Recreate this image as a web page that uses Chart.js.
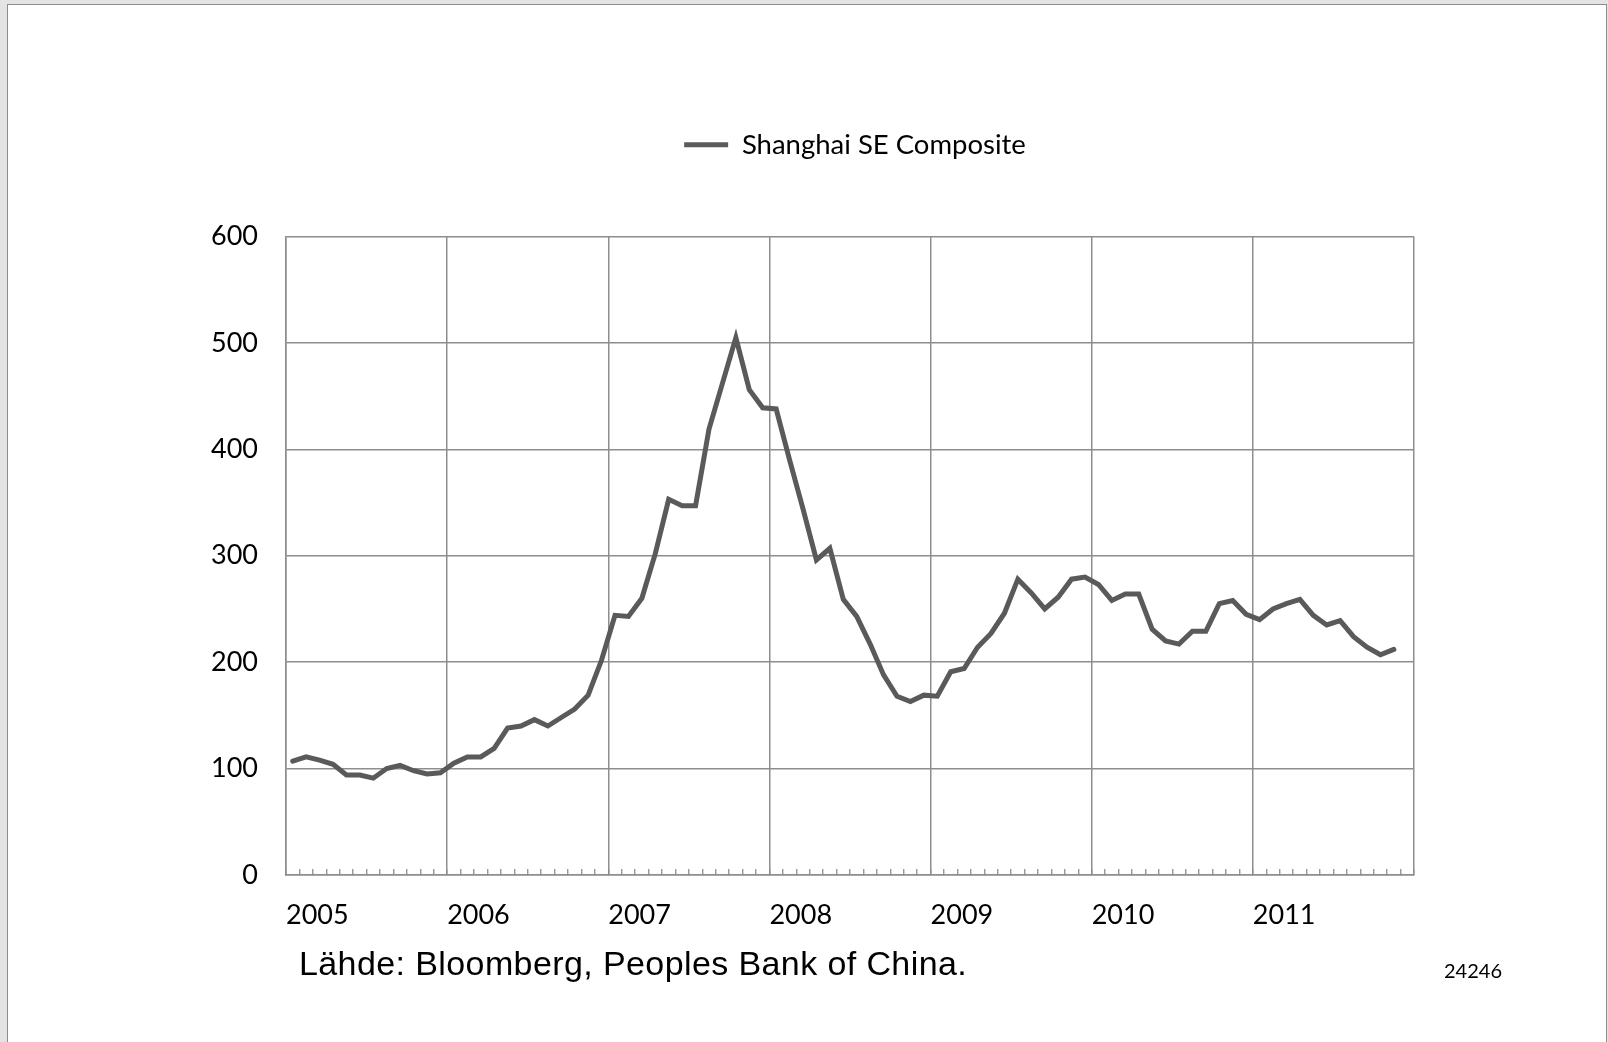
<!DOCTYPE html>
<html lang="fi">
<head>
<meta charset="utf-8">
<title>Shanghai SE Composite</title>
<script src="https://cdn.jsdelivr.net/npm/chart.js@4.4.1/dist/chart.umd.min.js"></script>
<style>
  html, body { margin: 0; padding: 0; }
  body {
    width: 1608px; height: 1042px; overflow: hidden; position: relative;
    background: #e4e4e4; font-family: Lato, sans-serif;
  }
  #sheet {
    position: absolute; left: 7px; top: 4px; width: 1598px; height: 1100px;
    background: #fff; border: 1px solid #8c8c8c; border-bottom: none;
  }
  #wrap { position: absolute; left: 0; top: 0; width: 1608px; height: 1042px; }
  #source {
    position: absolute; left: 299px; top: 946px;
    font: 34px "Liberation Sans", Arial, sans-serif; line-height: 34px;
    letter-spacing: 0.4px; color: #000; white-space: nowrap;
  }
  #code {
    position: absolute; left: 1444px; top: 960px;
    font: 20px Lato, sans-serif; line-height: 20px; color: #000;
  }
</style>
</head>
<body>
<div id="sheet"></div>
<div id="wrap"><canvas id="chart" width="1608" height="1042"></canvas></div>
<div id="source">Lähde: Bloomberg, Peoples Bank of China.</div>
<div id="code">24246</div>

<script>
// Monthly index level, Jan 2005 – Nov 2011
const seriesName = 'Shanghai SE Composite';
const years = ['2005', '2006', '2007', '2008', '2009', '2010', '2011'];
const monthsPerYear = 12;
const yTickValues = [0, 100, 200, 300, 400, 500, 600];
const indexLevel = [
  // 2005
  107, 111, 108, 104, 94, 94, 91, 100, 103, 98, 95, 96,
  // 2006
  105, 111, 111, 119, 138, 140, 146, 140, 148, 156, 169, 202,
  // 2007
  244, 243, 260, 302, 353, 347, 347, 419, 462, 505, 456, 439,
  // 2008
  438, 390, 344, 296, 307, 259, 243, 217, 188, 168, 163, 169,
  // 2009
  168, 191, 194, 214, 227, 246, 278, 265, 250, 261, 278, 280,
  // 2010
  273, 258, 264, 264, 231, 220, 217, 229, 229, 255, 258, 245,
  // 2011
  240, 250, 255, 259, 244, 235, 239, 224, 214, 207, 212
];

const gridColor = '#8e8e8e';
const lineColor = '#5a5a5a';

// Places the legend row above the plot, centred on a given x
const legendPlacement = {
  id: 'legendPlacement',
  beforeDraw(chart, args, opts) {
    const lg = chart.legend;
    if (!lg) return;
    const dx = opts.centerX - (lg.left + lg.right) / 2;
    const dy = opts.top - lg.top;
    lg.left += dx; lg.right += dx;
    lg.top += dy; lg.bottom += dy;
  }
};

function build() {
  Chart.defaults.font.family = 'Lato, sans-serif';
  Chart.defaults.color = '#000';

  const points = indexLevel.map((v, i) => ({ x: i + 0.5, y: v }));

  new Chart(document.getElementById('chart'), {
    type: 'line',
    data: {
      datasets: [{
        label: seriesName,
        data: points,
        borderColor: lineColor,
        backgroundColor: lineColor,
        borderWidth: 5,
        pointRadius: 0,
        tension: 0,
        borderCapStyle: 'round',
        fill: false
      }]
    },
    options: {
      responsive: false,
      devicePixelRatio: 1,
      animation: false,
      events: [],
      layout: { padding: { left: 166, right: 194, top: 189, bottom: 67 } },
      plugins: {
        tooltip: { enabled: false },
        legendPlacement: { centerX: 855, top: 121 },
        legend: {
          position: 'top',
          labels: {
            usePointStyle: true,
            pointStyle: 'line',
            pointStyleWidth: 44,
            padding: 10,
            color: '#000',
            font: { size: 27.5 }
          }
        }
      },
      scales: {
        x: {
          type: 'linear',
          min: 0,
          max: years.length * monthsPerYear,
          afterFit: s => { s.height = 100; },
          border: { display: true, color: gridColor, width: 1.5 },
          grid: {
            color: c => (c.tick && c.tick.value % monthsPerYear === 0) ? gridColor : 'rgba(0,0,0,0)',
            lineWidth: 1.5,
            tickColor: gridColor,
            tickWidth: 1.3,
            tickLength: -6,
            drawTicks: true
          },
          ticks: {
            stepSize: 1,
            autoSkip: false,
            maxRotation: 0,
            align: 'start',
            padding: 30,
            font: { size: 27 },
            color: '#000',
            callback: v => (v % monthsPerYear === 0 && years[v / monthsPerYear]) ? years[v / monthsPerYear] : ''
          }
        },
        y: {
          min: 0,
          max: 600,
          afterFit: s => { s.width = 120; },
          afterBuildTicks: s => { s.ticks = yTickValues.map(v => ({ value: v })); },
          border: { display: true, color: gridColor, width: 1.5 },
          grid: { color: gridColor, lineWidth: 1.5, drawTicks: false },
          ticks: { padding: 28, font: { size: 27 }, color: '#000' }
        }
      }
    },
    plugins: [legendPlacement]
  });
}

if (document.fonts && document.fonts.load) {
  Promise.all([
    document.fonts.load('27px Lato'),
    document.fonts.load('34px "Liberation Sans"')
  ]).then(build, build);
} else {
  build();
}
</script>
</body>
</html>
